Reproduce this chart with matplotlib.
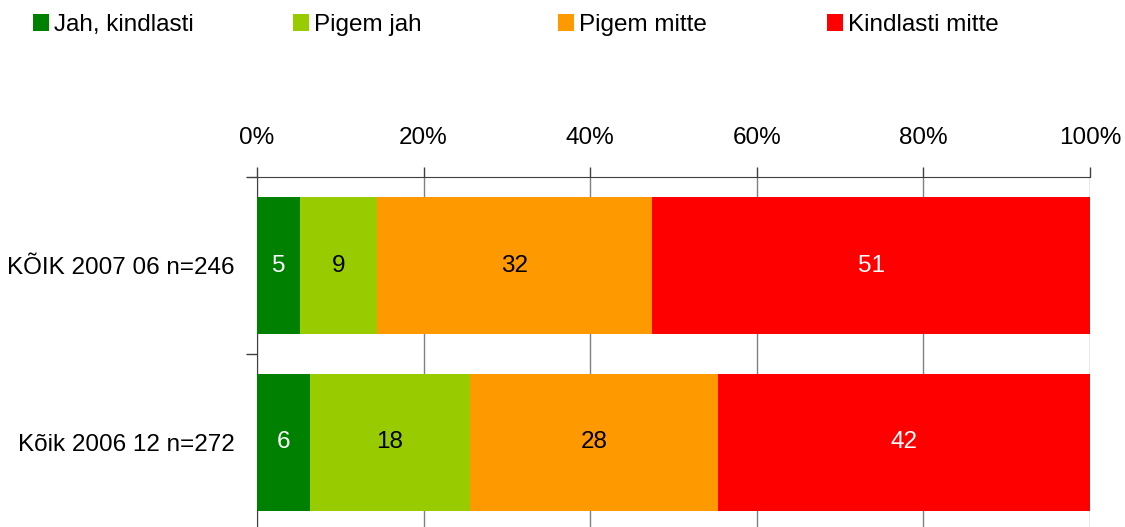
import matplotlib
import matplotlib.pyplot as plt
import numpy as np

matplotlib.use('agg')
plt.rcParams['font.family'] = ['Liberation Sans', 'DejaVu Sans']

categories = ['KÕIK 2007 06 n=246', 'Kõik 2006 12 n=272']
series_names = ['Jah, kindlasti', 'Pigem jah', 'Pigem mitte', 'Kindlasti mitte']
values = {
    'Jah, kindlasti': [5, 6],
    'Pigem jah': [9, 18],
    'Pigem mitte': [32, 28],
    'Kindlasti mitte': [51, 42],
}
colors = ['#008000', '#99CC00', '#FF9900', '#FF0000']
label_colors = ['white', 'black', 'black', 'white']
xticks = [0, 20, 40, 60, 80, 100]
fs = 17.5

fig = plt.figure(figsize=(11.25, 5.27), dpi=100)
ax = fig.add_axes([257 / 1125, 1 - 531 / 527, 833 / 1125, (531 - 177) / 527])

raw = np.array([values[s] for s in series_names], dtype=float)
share = raw / raw.sum(axis=0) * 100
y = np.arange(len(categories))
left = np.zeros(len(categories))
handles = []
for i, name in enumerate(series_names):
    h = ax.barh(y, share[i], left=left, height=0.77, color=colors[i], label=name, zorder=3)
    handles.append(h)
    for j in range(len(categories)):
        ax.text(left[j] + share[i][j] / 2, y[j], '%d' % raw[i][j], ha='center', va='center',
                fontsize=fs, color=label_colors[i], zorder=4)
    left += share[i]

ax.set_xlim(0, 100)
ax.set_ylim(1.5, -0.5)
ax.xaxis.tick_top()
ax.set_xticks(xticks)
ax.set_xticklabels(['%d%%' % t for t in xticks], fontsize=fs)
ax.tick_params(axis='x', length=7, width=1, color='#404040', pad=13)
ax.grid(axis='x', color='#808080', lw=1, zorder=0)

ax.set_yticks(y)
ax.set_yticklabels(categories, fontsize=fs)
ax.set_yticks([-0.5, 0.5, 1.5], minor=True)
ax.tick_params(axis='y', which='major', length=0, pad=16)
ax.tick_params(axis='y', which='minor', length=8, width=1, color='#404040')

for s in ['right', 'bottom']:
    ax.spines[s].set_visible(False)
ax.spines['top'].set_color('#404040')
ax.spines['left'].set_color('#404040')

# legend entries at fixed spacing, like the original
leg_x = [33, 293, 558, 827]
for h, x in zip(handles, leg_x):
    fig.legend(handles=[h], loc='center left', bbox_to_anchor=(x / 1125, 1 - 25 / 527),
               frameon=False, fontsize=fs, handlelength=0.66, handleheight=0.66,
               handletextpad=0.2, borderaxespad=0, borderpad=0)

fig.savefig('out.png', dpi=100)
